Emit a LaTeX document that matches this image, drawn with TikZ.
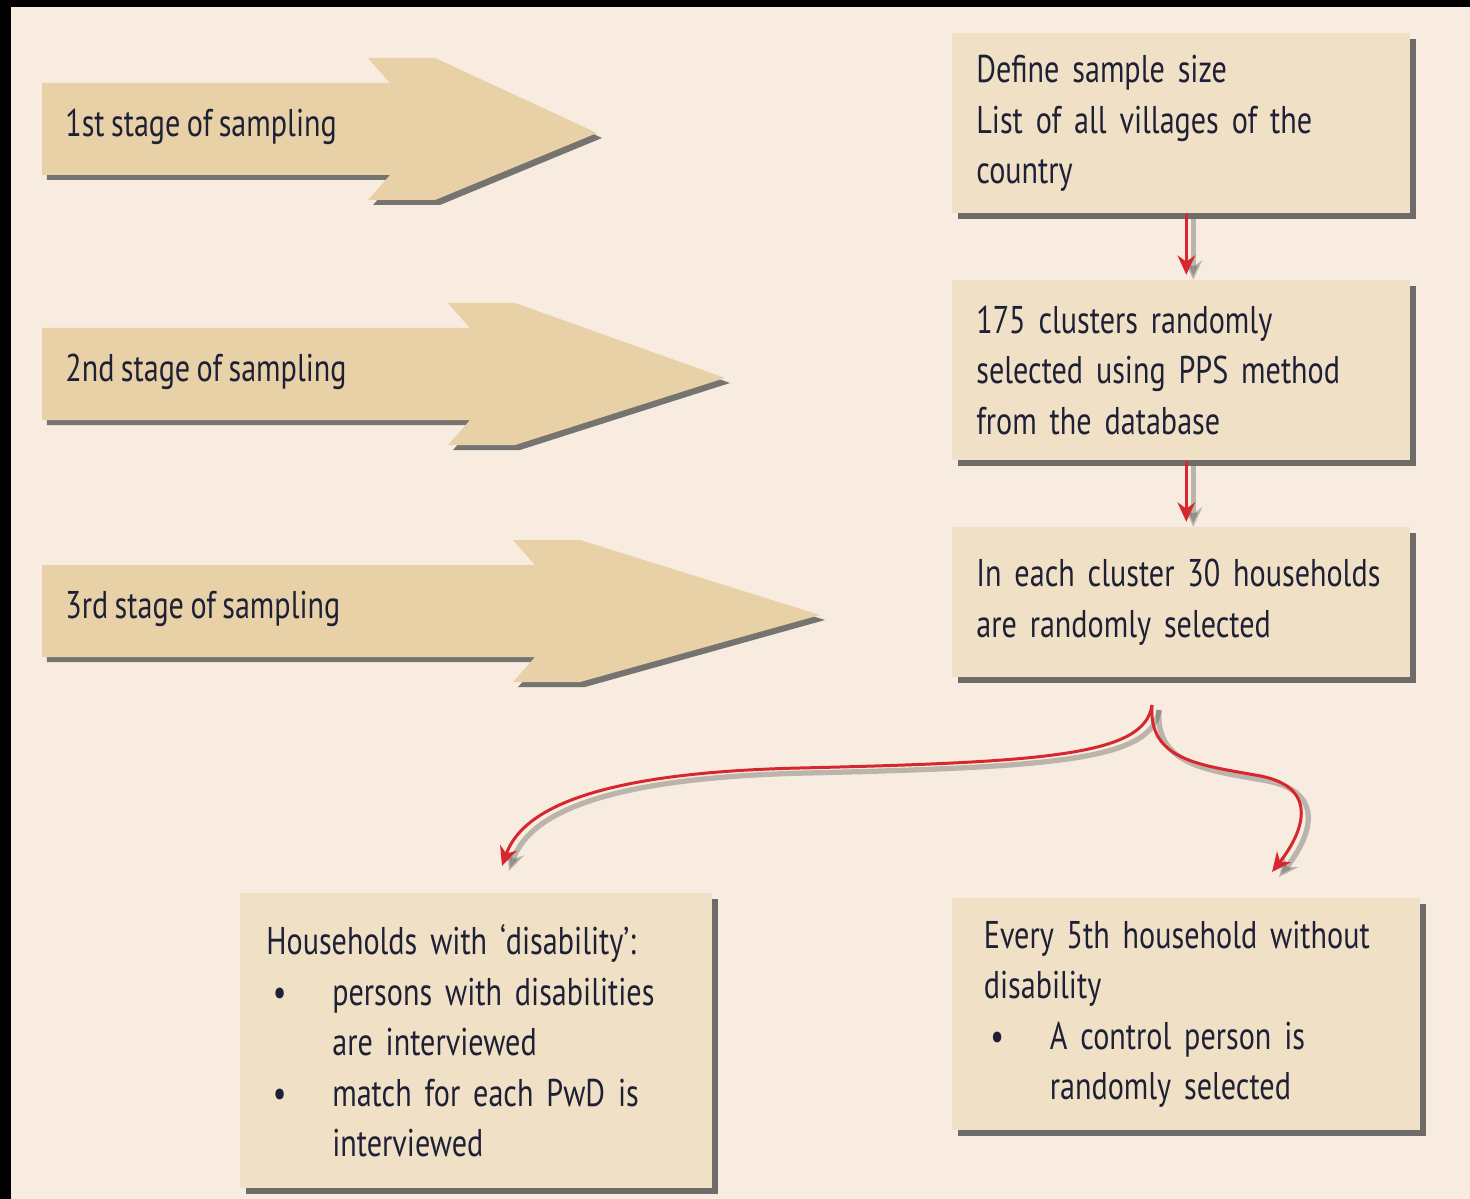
\documentclass[tikz,border=0pt]{standalone}
\usepackage{fontspec}
\setmainfont{PT Sans}[FakeStretch=0.78, WordSpace=0.8]
\usetikzlibrary{arrows.meta,positioning,shadows}
\definecolor{pagecream}{HTML}{F7ECDF}
\definecolor{boxtan}{HTML}{F0E0C5}
\definecolor{arrowtan}{HTML}{E8D1A7}
\definecolor{flowred}{HTML}{D7262E}
\definecolor{inknavy}{HTML}{1E2036}
\newcommand{\bul}{\makebox[1.32cm][l]{\,\textbullet}}
\newcommand{\hang}{\hspace*{1.32cm}}

\begin{document}
\begin{tikzpicture}[x=0.02cm, y=-0.02cm,
    every node/.style={text=inknavy, font=\fontsize{22}{28.8}\selectfont},
    infobox/.style={fill=boxtan, anchor=north west, align=left,
                    inner xsep=0.48cm, inner ysep=0pt,
                    drop shadow={shadow xshift=0.12cm, shadow yshift=-0.12cm,
                    fill=black!70, opacity=0.8}},
    stagearrow/.style={fill=arrowtan,
                    drop shadow={shadow xshift=0.1cm, shadow yshift=-0.1cm,
                    fill=black!70, opacity=0.75}},
    flowline/.style={draw=flowred, line width=1.7pt,
                    -{Stealth[length=11pt, width=10pt]},
                    preaction={draw=black!70, opacity=0.35, line width=3pt,
                    transform canvas={shift={(0.14cm,-0.1cm)}}}},
]
% page
\fill[black] (0,0) rectangle (1470,1199);
\fill[pagecream] (11,7) rectangle (1470,1199);

% Stage arrows
\foreach \n/\top/\notch/\tip/\ord in {1/83/390/597/1st, 2/328/470/725/2nd, 3/565/535/820/3rd}{
  \path[stagearrow] (42,\top) -- (\notch,\top) -- ({\notch-22},{\top-25})
       -- ({\notch+45},{\top-25}) -- (\tip,{\top+50}) -- ({\notch+45},{\top+117})
       -- ({\notch-22},{\top+117}) -- (\notch,{\top+92}) -- (42,{\top+92}) -- cycle;
  \node[anchor=west, inner sep=0pt] (stage\n) at (65,{\top+44}) {\ord\ stage of sampling};
}

% Right column
\node[infobox, minimum width=9.16cm, minimum height=3.6cm, text width=8.2cm]
     (def) at (952,33)
     {Define sample size\\List of all villages of the\\country};
\node[infobox, minimum width=9.16cm, minimum height=3.6cm, text width=8.2cm]
     (clu) at (952,280)
     {175 clusters randomly\\selected using PPS method\\from the database};
\node[infobox, minimum width=9.16cm, minimum height=3cm, text width=8.2cm]
     (hh) at (952,527)
     {\mbox{In each cluster 30 households}\\are randomly selected};

% Bottom boxes
\node[infobox, minimum width=9.44cm, minimum height=5.9cm, text width=8.4cm,
      inner xsep=0.52cm] (dis) at (240,893)
     {Households with `disability':\\
      \bul persons with disabilities\\
      \hang are interviewed\\
      \bul match for each PwD is\\
      \hang interviewed};
\node[infobox, minimum width=9.36cm, minimum height=4.64cm, text width=8.1cm,
      inner xsep=0.56cm] (ctl) at (952,898)
     {\makebox[7.95cm][s]{Every 5th household without}\\
      disability\\
      \bul A control person is\\
      \hang randomly selected};

% Arrows
\draw[flowline, shorten >=3pt] ([xshift=0.1cm]def.south) -- ([xshift=0.1cm]clu.north);
\draw[flowline, shorten >=3pt] ([xshift=0.1cm]clu.south) -- ([xshift=0.1cm]hh.north);

\coordinate (split) at (1152,705);
\coordinate (disend) at (502,866);
\coordinate (ctlend) at (1272,872);
\draw[flowline] (split) .. controls (1145,755) and (1050,762) .. (800,768)
     .. controls (580,773) and (520,815) .. (disend);
\draw[flowline] (split) .. controls (1148,760) and (1200,765) .. (1255,775)
     .. controls (1320,785) and (1305,830) .. (ctlend);
\end{tikzpicture}
\end{document}
